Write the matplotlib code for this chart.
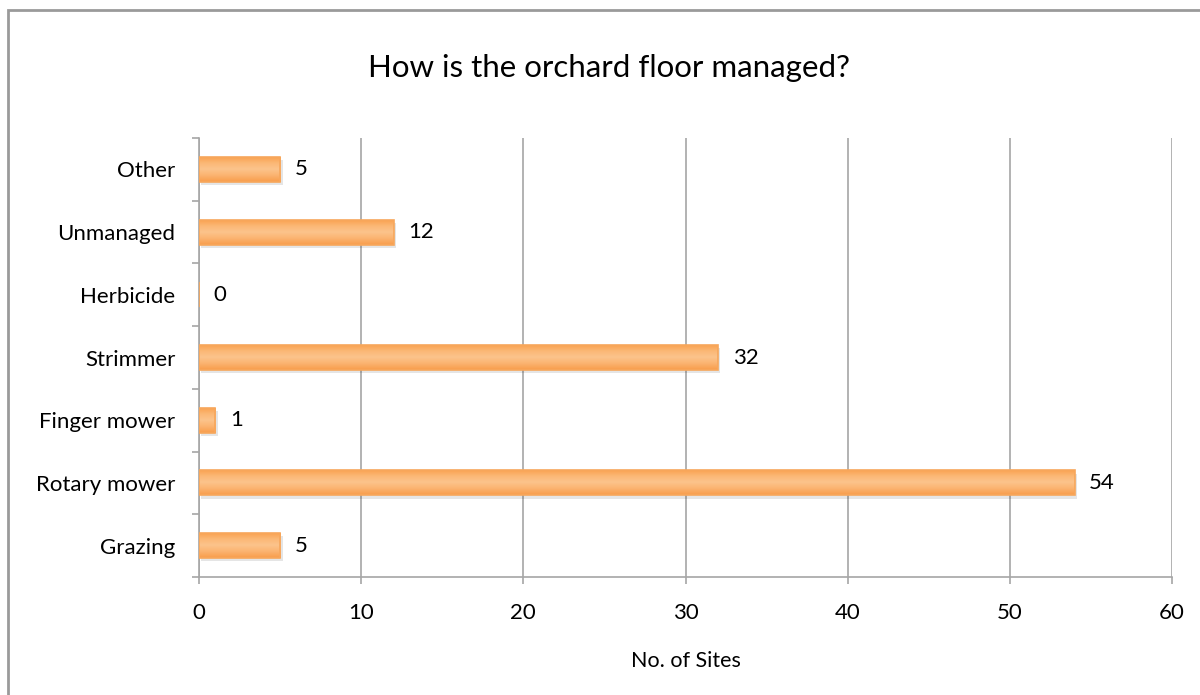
import matplotlib.pyplot as plt
import numpy as np
from matplotlib.colors import LinearSegmentedColormap

categories = ['Grazing', 'Rotary mower', 'Finger mower', 'Strimmer',
              'Herbicide', 'Unmanaged', 'Other']
sites = [5, 54, 1, 32, 0, 12, 5]
xticks = [0, 10, 20, 30, 40, 50, 60]

plt.rcParams['font.family'] = ['Lato', 'DejaVu Sans']

fig = plt.figure(figsize=(12, 6.95), dpi=100)
# outer chart frame
fig.patches.append(plt.Rectangle((8 / 1200, -0.05), 1.2, 1.05 - 10 / 695,
                                 transform=fig.transFigure, fill=False,
                                 edgecolor='#9a9a9a', linewidth=2))
ax = fig.add_axes([199 / 1200, 1 - 577 / 695, 973 / 1200, 439 / 695])

grid_col = '#a6a6a6'
y = np.arange(len(categories))
h = 0.4
bars = ax.barh(y, sites, height=h, color='none', edgecolor='#f7a75c',
               linewidth=1.2, zorder=4)

cmap = LinearSegmentedColormap.from_list(
    'orng', ['#f99f4c', '#fbb774', '#fcc48c', '#fbb370', '#f89d4b'])
grad = np.linspace(0, 1, 64).reshape(-1, 1)
for b in bars:
    w = b.get_width()
    if w <= 0:
        continue
    x0, y0 = b.get_x(), b.get_y()
    # soft shadow
    ax.add_patch(plt.Rectangle((x0 + 0.15, y0 - 0.05), w, h, color='#000000',
                               alpha=0.10, zorder=2, linewidth=0))
    im = ax.imshow(grad, cmap=cmap, aspect='auto', zorder=3,
                   extent=(x0, x0 + w, y0, y0 + h), origin='upper')
    im.set_clip_path(b)

for yi, v in zip(y, sites):
    ax.text(v + 0.9, yi, str(v), va='center', ha='left', fontsize=16,
            color='#000000', zorder=5)

ax.set_xlim(0, 60)
ax.set_ylim(-0.5, len(categories) - 0.5)
ax.set_xticks(xticks)
ax.set_xticklabels([str(t) for t in xticks])
ax.set_yticks(y)
ax.set_yticklabels(categories)
ax.set_yticks(np.arange(-0.5, len(categories)), minor=True)
ax.tick_params(axis='y', which='major', length=0, pad=17, labelsize=16)
ax.tick_params(axis='y', which='minor', length=5, color=grid_col, width=1.2)
ax.tick_params(axis='x', which='major', length=5, color=grid_col, width=1.2,
               pad=14, labelsize=16)

ax.grid(axis='x', color=grid_col, linewidth=1.2, zorder=0)
ax.set_axisbelow(True)
for s in ['top', 'right']:
    ax.spines[s].set_visible(False)
for s in ['left', 'bottom']:
    ax.spines[s].set_color(grid_col)
    ax.spines[s].set_linewidth(1.2)

ax.set_xlabel('No. of Sites', fontsize=15.5, labelpad=20)
fig.text(609 / 1200, 1 - 68 / 695, 'How is the orchard floor managed?',
         ha='center', va='center', fontsize=22.5)

fig.savefig('out.png', dpi=100)
